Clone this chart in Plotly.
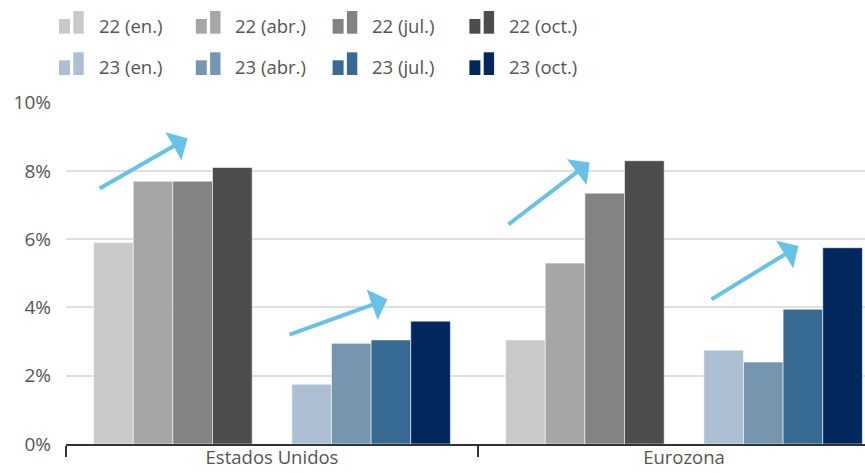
import plotly.graph_objects as go

# Regions on the category axis
regions = ["Estados Unidos", "Eurozona"]

# Growth forecasts by vintage (%, annual average)
f22_en = [5.9, 3.05]
f22_abr = [7.7, 5.3]
f22_jul = [7.7, 7.35]
f22_oct = [8.1, 8.3]
f23_en = [1.75, 2.75]
f23_abr = [2.95, 2.4]
f23_jul = [3.05, 3.95]
f23_oct = [3.6, 5.75]

series_names = ["22 (en.)", "22 (abr.)", "22 (jul.)", "22 (oct.)",
                "23 (en.)", "23 (abr.)", "23 (jul.)", "23 (oct.)"]
series_values = [f22_en, f22_abr, f22_jul, f22_oct,
                 f23_en, f23_abr, f23_jul, f23_oct]
series_colors = ["#c9c9c9", "#a6a6a6", "#838383", "#4d4d4d",
                 "#adc0d3", "#7696af", "#386b93", "#00285e"]

y_ticks = [0, 2, 4, 6, 8, 10]
y_tick_labels = ["0%", "2%", "4%", "6%", "8%", "10%"]

W, H = 865, 473
ML, MR, MT, MB = 66, 0, 102, 29
PW, PH = W - ML - MR, H - MT - MB
FONT = "Open Sans, Noto Sans, sans-serif"
FSIZE = 19
TXT = "#555555"
ARROW = "#68c1e6"


def px_x(px):
    return (px - ML) / PW


def px_y(py):
    return (H - MB - py) / PH


fig = go.Figure()

# 2022 vintages, an empty slot, then 2023 vintages
for i in range(4):
    fig.add_trace(go.Bar(
        x=regions, y=series_values[i], name=series_names[i],
        marker=dict(color=series_colors[i],
                    line=dict(color="rgba(255,255,255,0.55)", width=1)),
        showlegend=False))
fig.add_trace(go.Bar(x=regions, y=[0, 0], marker=dict(color="rgba(0,0,0,0)",
                     line=dict(width=0)), showlegend=False, hoverinfo="skip"))
for i in range(4, 8):
    fig.add_trace(go.Bar(
        x=regions, y=series_values[i], name=series_names[i],
        marker=dict(color=series_colors[i],
                    line=dict(color="rgba(255,255,255,0.55)", width=1)),
        showlegend=False))

# Upward-trend arrows over each block of bars (tail -> head, data coords)
arrows = [
    ((-0.422, 7.46), (-0.205, 8.96)),
    ((0.039, 3.19), (0.280, 4.24)),
    ((0.570, 6.40), (0.771, 8.25)),
    ((1.063, 4.21), (1.278, 5.80)),
]
annotations = []
for (tx, ty), (hx, hy) in arrows:
    annotations.append(dict(
        x=hx, y=hy, ax=tx, ay=ty, xref="x", yref="y", axref="x", ayref="y",
        text="", showarrow=True, arrowhead=1, arrowsize=1.35, arrowwidth=4,
        arrowcolor=ARROW, standoff=0, startstandoff=0))

# Legend: two rows of four, each with a two-bar swatch
shapes = []
for i, (name, color) in enumerate(zip(series_names, series_colors)):
    row, col = divmod(i, 4)
    x0 = 59 + col * 136.8
    yb = 33.7 + row * 41.3
    shapes.append(dict(type="rect", xref="paper", yref="paper",
                       x0=px_x(x0), x1=px_x(x0 + 11),
                       y0=px_y(yb), y1=px_y(yb - 14.7),
                       fillcolor=color, line=dict(width=0)))
    shapes.append(dict(type="rect", xref="paper", yref="paper",
                       x0=px_x(x0 + 14.3), x1=px_x(x0 + 24.7),
                       y0=px_y(yb), y1=px_y(yb - 22.7),
                       fillcolor=color, line=dict(width=0)))
    annotations.append(dict(
        x=px_x(x0 + 37.5), y=px_y(yb - 8.6), xref="paper", yref="paper",
        xanchor="left", yanchor="middle", showarrow=False, text=name,
        font=dict(family=FONT, size=FSIZE - 0.5, color=TXT)))

fig.update_layout(
    width=W, height=H,
    margin=dict(l=ML, r=MR, t=MT, b=MB, pad=0),
    paper_bgcolor="white", plot_bgcolor="white",
    barmode="group", bargap=0.134, bargroupgap=0,
    showlegend=False,
    font=dict(family=FONT, size=FSIZE, color=TXT),
    shapes=shapes, annotations=annotations,
    xaxis=dict(
        type="category", categoryorder="array", categoryarray=regions,
        range=[-0.5, -0.5 + PW / 412], automargin=False,
        showline=True, linecolor="#333333", linewidth=2,
        ticks="outside", tickson="boundaries", ticklen=11,
        tickcolor="#333333", tickwidth=1.5, ticklabelstandoff=-4,
        showgrid=False, tickfont=dict(family=FONT, size=FSIZE - 0.5, color=TXT)),
    yaxis=dict(
        range=[0, 10.02], tickmode="array", tickvals=y_ticks,
        ticktext=y_tick_labels, automargin=False,
        showgrid=True, gridcolor="#dedee3", gridwidth=1.5,
        zeroline=False, showline=False, ticks="",
        ticklabelstandoff=14,
        tickfont=dict(family=FONT, size=FSIZE, color=TXT)),
)

fig.write_html("out.html")
